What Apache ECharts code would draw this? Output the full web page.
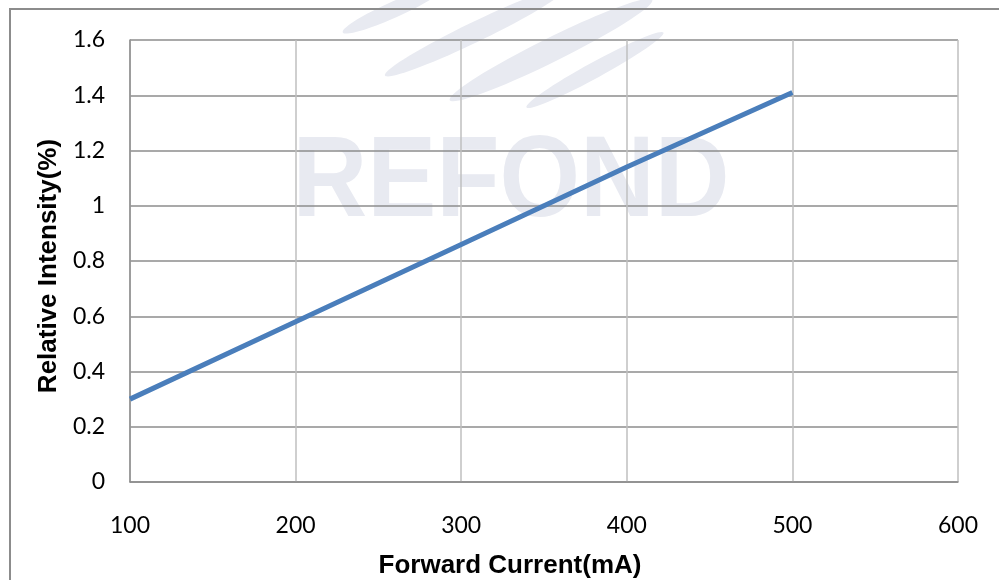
<!DOCTYPE html>
<html>
<head>
<meta charset="utf-8">
<script src="https://cdn.jsdelivr.net/npm/echarts@6/dist/echarts.min.js"></script>
<style>html,body{margin:0;padding:0;background:#fff;}#c{width:999px;height:580px;}</style>
</head>
<body>
<div id="c"></div>
<script>
const currents = [100, 200, 300, 400, 500];
const intensity = [0.30, 0.58, 0.86, 1.14, 1.41];
const xTitle = 'Forward Current(mA)';
const yTitle = 'Relative Intensity(%)';

const chart = echarts.init(document.getElementById('c'));
const wm = '#e8eaf1';
chart.setOption({
  animation: false,
  backgroundColor: '#fff',
  grid: {left: 130, right: 41, top: 40, bottom: 98},
  xAxis: {
    type: 'value', min: 100, max: 600, interval: 100,
    axisLine: {show: true, lineStyle: {color: '#8c8c8c', width: 1.5}},
    axisTick: {show: false},
    axisLabel: {color: '#000', fontSize: 23, fontFamily: 'Lato', margin: 32},
    splitLine: {show: true, lineStyle: {color: '#bfbfbf', width: 1.5}}
  },
  yAxis: {
    type: 'value', min: 0, max: 1.6, interval: 0.2,
    axisLine: {show: true, lineStyle: {color: '#8c8c8c', width: 1.5}},
    axisTick: {show: false},
    axisLabel: {color: '#000', fontSize: 23, fontFamily: 'Lato', margin: 25,
      formatter: v => String(Math.round(v * 10) / 10)},
    splitLine: {show: true, lineStyle: {color: '#8c8c8c', width: 1.5}}
  },
  graphic: [
    {type: 'rect', shape: {x: 10, y: 9, width: 1200, height: 800}, style: {fill: 'none', stroke: '#8c8c8c', lineWidth: 2}, z: 100, silent: true},
    {type: 'text', x: 511, y: 184, scaleX: 0.9, z: -10, silent: true,
      style: {text: 'REFOND', fill: wm, font: 'bold 115px "Liberation Sans"', textAlign: 'center', textVerticalAlign: 'middle'}},
    {type: 'ellipse', x: 393, y: 10, rotation: 0.42, z: -10, silent: true, shape: {cx: 0, cy: 0, rx: 55, ry: 8}, style: {fill: wm}},
    {type: 'ellipse', x: 475, y: 32, rotation: 0.45, z: -10, silent: true, shape: {cx: 0, cy: 0, rx: 100, ry: 10}, style: {fill: wm}},
    {type: 'ellipse', x: 551, y: 50, rotation: 0.46, z: -10, silent: true, shape: {cx: 0, cy: 0, rx: 113, ry: 12}, style: {fill: wm}},
    {type: 'ellipse', x: 595, y: 70, rotation: 0.5, z: -10, silent: true, shape: {cx: 0, cy: 0, rx: 78, ry: 8}, style: {fill: wm}},
    {type: 'text', x: 510, y: 566, silent: true,
      style: {text: xTitle, fill: '#000', font: 'bold 26px "Liberation Sans"', textAlign: 'center', textVerticalAlign: 'middle'}},
    {type: 'text', x: 49, y: 266, rotation: Math.PI / 2, silent: true,
      style: {text: yTitle, fill: '#000', font: 'bold 26px "Liberation Sans"', textAlign: 'center', textVerticalAlign: 'middle'}}
  ],
  series: [{
    type: 'line',
    data: currents.map((x, i) => [x, intensity[i]]),
    showSymbol: false,
    lineStyle: {color: '#4a7ebb', width: 5},
    z: 5
  }]
});
</script>
</body>
</html>
